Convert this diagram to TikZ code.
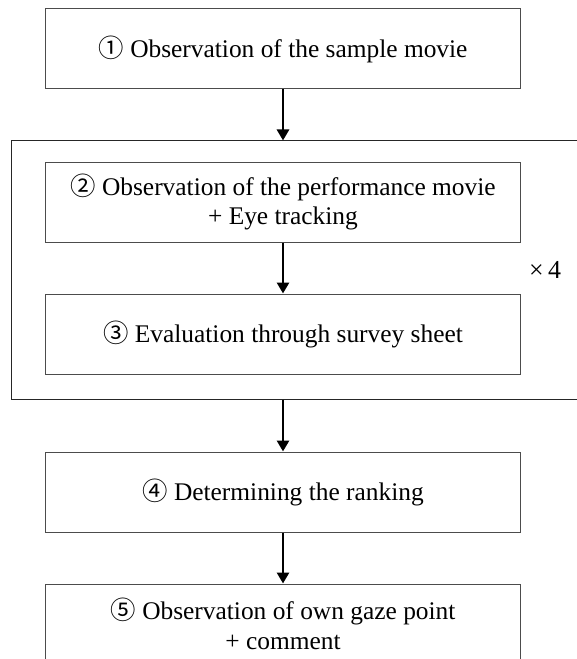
\documentclass[tikz,border=0pt]{standalone}
\usepackage{fontspec}
\setmainfont{Liberation Serif}
\newfontfamily\circfont{Noto Sans CJK JP}
\usetikzlibrary{arrows.meta,positioning}
\newcommand{\stepno}[1]{{\circfont #1}}

\begin{document}
\begin{tikzpicture}[
    x=1bp, y=-1bp,
    node distance=51bp,
    stepbox/.style={draw=black!70, line width=1bp, minimum width=474bp, minimum height=80bp, inner sep=0pt, align=center, font=\fontsize{25.5}{30}\selectfont},
    loopframe/.style={draw=black!85, line width=1bp, minimum width=590bp, minimum height=258bp, inner sep=0pt},
    arrow/.style={-{Triangle[length=11bp,width=12bp]}, line width=2.8bp}
]
    \useasboundingbox (0,0) rectangle (577,659);

    % Steps, top to bottom
    \node[stepbox] (s1) at (283,49) {\stepno{①} Observation of the sample movie};
    \node[loopframe] (loop) at (307,270) {};
    \node[stepbox] (s2) [below=72bp of s1] {\stepno{②} Observation of the performance movie\\+ Eye tracking};
    \node[stepbox] (s3) [below=of s2] {\stepno{③} Evaluation through survey sheet};
    \node[stepbox] (s4) [below=77bp of s3] {\stepno{④} Determining the ranking};
    \node[stepbox] (s5) [below=of s4] {\stepno{⑤} Observation of own gaze point\\+ comment};
    \node[font=\fontsize{26}{30}\selectfont, anchor=west, inner sep=0pt] (rep) at (529,270) {×\,4};

    % Connections
    \draw[arrow] (s1.south) -- (s1.south |- loop.north);
    \draw[arrow] (s2) -- (s3);
    \draw[arrow] (s1.south |- loop.south) -- (s4.north);
    \draw[arrow] (s4) -- (s5);
\end{tikzpicture}
\end{document}
